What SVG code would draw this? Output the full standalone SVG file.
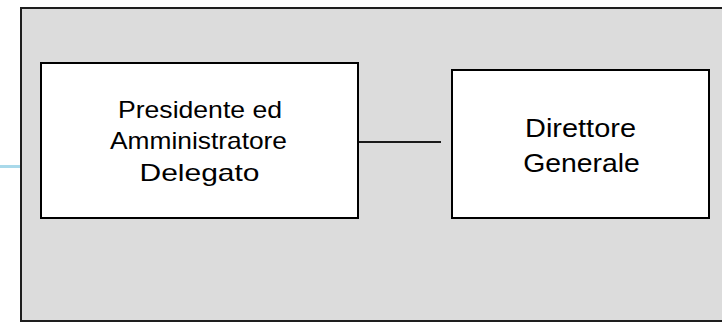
<svg xmlns="http://www.w3.org/2000/svg" width="722" height="322" viewBox="0 0 722 322">
<style>
.box{fill:#ffffff;stroke:#000000;stroke-width:2}
.lbl{font-family:"Liberation Sans",Arial,sans-serif;fill:#000000;text-anchor:middle}
.conn{stroke:#1a1a1a;stroke-width:2;fill:none}
</style>
<rect width="722" height="322" fill="#ffffff"/>
<line x1="0" y1="166.5" x2="21" y2="166.5" stroke="#a9d9ea" stroke-width="3"/>
<rect id="frame" x="21" y="8" width="720" height="313" fill="#dcdcdc" stroke="#1e1e1e" stroke-width="2"/>
<g id="connectors">
<line class="conn" x1="358" y1="142" x2="441" y2="142"/>
</g>
<g id="node-presidente">
<rect class="box" x="41" y="63" width="317" height="155"/>
<text class="lbl" style="font-size:24px" x="200" y="117.5" textLength="164" lengthAdjust="spacingAndGlyphs">Presidente ed</text>
<text class="lbl" style="font-size:24px" x="198.5" y="149" textLength="177" lengthAdjust="spacingAndGlyphs">Amministratore</text>
<text class="lbl" style="font-size:24px" x="199.5" y="180.5" textLength="120" lengthAdjust="spacingAndGlyphs">Delegato</text>
</g>
<g id="node-direttore">
<rect class="box" x="452" y="70" width="257" height="148"/>
<text class="lbl" style="font-size:25.5px" x="580.5" y="136.7" textLength="111" lengthAdjust="spacingAndGlyphs">Direttore</text>
<text class="lbl" style="font-size:25.5px" x="581.5" y="171.7" textLength="116.7" lengthAdjust="spacingAndGlyphs">Generale</text>
</g>
</svg>
